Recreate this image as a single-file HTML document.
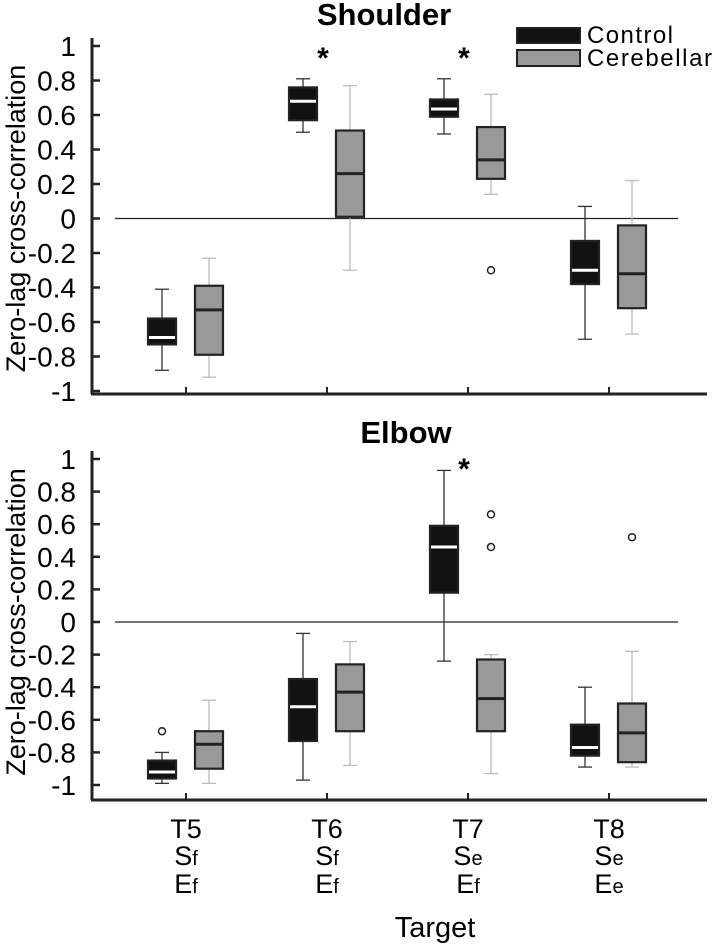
<!DOCTYPE html>
<html><head><meta charset="utf-8"><style>
body{margin:0;background:#fff;}
svg{display:block;font-family:"Liberation Sans",sans-serif;}
</style></head><body>
<svg id="c" width="715" height="948" xmlns="http://www.w3.org/2000/svg"></svg>
<script>
const categories = ["T5","T6","T7","T8"];
const catLine2 = ["S","S","S","S"], catSub2 = ["f","f","e","e"];
const catSub3 = ["f","f","f","e"];
const yTicks = [1,0.8,0.6,0.4,0.2,0,-0.2,-0.4,-0.6,-0.8,-1];
const yTickLabels = ["1","0.8","0.6","0.4","0.2","0","-0.2","-0.4","-0.6","-0.8","-1"];
// [lowWhisker, q1, median, q3, highWhisker]
const shoulderControl = [[-0.88,-0.73,-0.69,-0.58,-0.41],[0.50,0.57,0.68,0.76,0.81],[0.49,0.59,0.635,0.69,0.81],[-0.70,-0.38,-0.30,-0.13,0.07]];
const shoulderCereb = [[-0.92,-0.79,-0.53,-0.39,-0.23],[-0.30,0.01,0.26,0.51,0.77],[0.14,0.23,0.34,0.53,0.72],[-0.67,-0.52,-0.32,-0.04,0.22]];
const shoulderCtrlOut = [[],[],[],[]];
const shoulderCerOut = [[],[],[-0.30],[]];
const shoulderStars = [1,2];
const elbowControl = [[-0.99,-0.96,-0.92,-0.85,-0.80],[-0.97,-0.73,-0.52,-0.35,-0.07],[-0.24,0.18,0.46,0.59,0.93],[-0.89,-0.82,-0.77,-0.63,-0.40]];
const elbowCereb = [[-0.99,-0.90,-0.75,-0.67,-0.48],[-0.88,-0.67,-0.43,-0.26,-0.12],[-0.93,-0.67,-0.47,-0.23,-0.20],[-0.89,-0.86,-0.68,-0.50,-0.18]];
const elbowCtrlOut = [[-0.67],[],[],[]];
const elbowCerOut = [[],[],[0.66,0.46],[0.52]];
const elbowStars = [2];

const svg=document.getElementById('c');
const NS="http://www.w3.org/2000/svg";
function mk(tag,attrs,parent){const e=document.createElementNS(NS,tag);for(const k in attrs)e.setAttribute(k,attrs[k]);(parent||svg).appendChild(e);return e;}
const xTick=i=>186+i*141;

function panel(name,title,y1px,ym1px,axisY,titleX,titleY,ctrl,cer,ctrlOut,cerOut,stars,starY){
  const g=mk('g',{});
  
  
  const ys=v=>(y1px+ym1px)/2-v*(ym1px-y1px)/2;
  const t=mk('text',{x:titleX,y:titleY,'text-anchor':'middle','font-size':31,'font-weight':'bold'},g);t.textContent=title;
  
  const ya=mk('line',{x1:92,y1:y1px-8,x2:92,y2:axisY,stroke:'#222','stroke-width':3},g);
  
  const xa=mk('line',{x1:91,y1:axisY,x2:707,y2:axisY,stroke:'#222','stroke-width':3},g);
  
  yTicks.forEach((v,i)=>{
    mk('line',{x1:92,y1:ys(v),x2:100,y2:ys(v),stroke:'#222','stroke-width':2.5},g);
    const l=mk('text',{x:76,y:ys(v)+10,'text-anchor':'end','font-size':28},g);l.textContent=yTickLabels[i];
    
  });
  categories.forEach((c,i)=>mk('line',{x1:xTick(i),y1:axisY,x2:xTick(i),y2:axisY-7,stroke:'#222','stroke-width':2},g));
  const z=mk('line',{x1:115,y1:ys(0),x2:678,y2:ys(0),stroke:'#222','stroke-width':1.3},g);
  
  const yt=mk('text',{x:0,y:0,'text-anchor':'middle','font-size':27,transform:`translate(25,${(y1px+ym1px)/2}) rotate(-90)`},g);
  yt.textContent='Zero-lag cross-correlation';
  
  function box(d,cx,fill,wcol,mcol,nm){
    const bg=mk('g',{},g);
    
    mk('line',{x1:cx,y1:ys(d[0]),x2:cx,y2:ys(d[4]),stroke:wcol,'stroke-width':1.3},bg);
    mk('line',{x1:cx-7,y1:ys(d[0]),x2:cx+7,y2:ys(d[0]),stroke:wcol,'stroke-width':1.3},bg);
    mk('line',{x1:cx-7,y1:ys(d[4]),x2:cx+7,y2:ys(d[4]),stroke:wcol,'stroke-width':1.3},bg);
    mk('rect',{x:cx-14,y:ys(d[3]),width:28,height:ys(d[1])-ys(d[3]),fill:fill,stroke:'#222','stroke-width':2.2},bg);
    mk('line',{x1:cx-13,y1:ys(d[2]),x2:cx+13,y2:ys(d[2]),stroke:mcol,'stroke-width':3},bg);
  }
  categories.forEach((c,i)=>{
    box(ctrl[i],xTick(i)-24,'#111','#333','#fff',name+'-control-'+c);
    box(cer[i],xTick(i)+23,'#999','#bbb','#222',name+'-cerebellar-'+c);
    ctrlOut[i].forEach(v=>{const o=mk('circle',{cx:xTick(i)-24,cy:ys(v),r:3.5,fill:'none',stroke:'#222','stroke-width':1.5},g);
      });
    cerOut[i].forEach(v=>{const o=mk('circle',{cx:xTick(i)+23,cy:ys(v),r:3.5,fill:'none',stroke:'#222','stroke-width':1.5},g);
      });
  });
  stars.forEach(i=>{const s=mk('text',{x:xTick(i)-4,y:starY,'text-anchor':'middle','font-size':30,'font-weight':'bold'},g);s.textContent='*';
    });
}
panel('shoulder','Shoulder',46,391,394,384,25,shoulderControl,shoulderCereb,shoulderCtrlOut,shoulderCerOut,shoulderStars,68);
panel('elbow','Elbow',459,785,800,406,443,elbowControl,elbowCereb,elbowCtrlOut,elbowCerOut,elbowStars,479);

categories.forEach((c,i)=>{
  const g=mk('g',{});
  
  const a=mk('text',{x:xTick(i),y:838,'text-anchor':'middle','font-size':27},g);a.textContent=c;
  const b=mk('text',{x:xTick(i),y:865,'text-anchor':'middle','font-size':27},g);b.textContent=catLine2[i];
  const bs=mk('tspan',{'font-size':20},b);bs.textContent=catSub2[i];
  const d=mk('text',{x:xTick(i),y:893,'text-anchor':'middle','font-size':27},g);d.textContent='E';
  const ds=mk('tspan',{'font-size':20},d);ds.textContent=catSub3[i];
});
const xt=mk('text',{x:435,y:937,'text-anchor':'middle','font-size':29});xt.textContent='Target';


const lg=mk('g',{});

const l1=mk('g',{},lg);
mk('rect',{x:517,y:28,width:63,height:15,fill:'#111',stroke:'#222','stroke-width':2},l1);
const t1=mk('text',{x:587,y:43,'font-size':24,textLength:86},l1);t1.textContent='Control';
const l2=mk('g',{},lg);
mk('rect',{x:517,y:50,width:63,height:16,fill:'#999',stroke:'#222','stroke-width':2},l2);
const t2=mk('text',{x:587,y:66,'font-size':24,textLength:125},l2);t2.textContent='Cerebellar';
</script>
</body></html>
